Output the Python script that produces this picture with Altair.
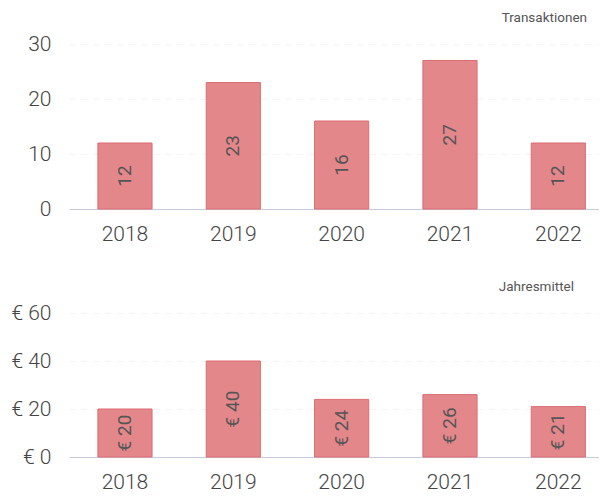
import altair as alt
import pandas as pd

years = ["2018", "2019", "2020", "2021", "2022"]
transactions = [12, 23, 16, 27, 12]
yearly_mean = [20, 40, 24, 26, 21]

df1 = pd.DataFrame({"year": years, "value": transactions, "label": [str(v) for v in transactions]})
df2 = pd.DataFrame({"year": years, "value": yearly_mean, "label": ["€ " + str(v) for v in yearly_mean]})

FONT = "Roboto"
BAR = "#e4878b"
EDGE = "#dc6d72"
TXT = "#555555"

xscale = alt.Scale(paddingInner=0.5, paddingOuter=0.196, align=0.68)


def panel(df, ymax, title, label_expr, h, tdx):
    x = alt.X("year:N", sort=years, scale=xscale,
              axis=alt.Axis(title=None, labelAngle=0, ticks=False, labelPadding=14,
                            labelFontSize=21, labelFont=FONT, labelFontWeight=300,
                            labelColor="#444444", domainColor="#c9c9dd", domainWidth=1,
                            grid=False))
    y = alt.Y("value:Q", scale=alt.Scale(domain=[0, ymax], nice=False),
              axis=alt.Axis(title=None, values=[0, ymax / 3, 2 * ymax / 3, ymax],
                            labelExpr=label_expr, ticks=False, domain=False,
                            labelPadding=18, labelFontSize=21, labelFont=FONT,
                            labelFontWeight=300, labelColor="#444444",
                            gridColor="#f3f3f3", gridDash=[6, 6], gridWidth=1))
    bars = alt.Chart(df).mark_bar(color=BAR, stroke=EDGE, strokeWidth=1, opacity=1).encode(x=x, y=y)
    text = alt.Chart(df).mark_text(angle=270, font=FONT, fontSize=19, color=TXT,
                                   align="center", baseline="middle").encode(
        x=alt.X("year:N", sort=years),
        y=alt.Y("mid:Q"),
        text="label:N",
    ).transform_calculate(mid="datum.value / 2")
    return alt.layer(bars, text).properties(
        width=530, height=h,
        title=alt.TitleParams(title, anchor="end", fontSize=13.5, font=FONT, fontWeight=400,
                              color="#555555", offset=9, dx=tdx),
    )


top = panel(df1, 30, "Transaktionen", "datum.value", 165, -12)
bottom = panel(df2, 60, "Jahresmittel", "'€ ' + datum.value", 144, -25)

chart = alt.vconcat(top, bottom, spacing=35).properties(
    padding={"left": 2, "top": 2, "right": 0, "bottom": 0}
).configure_view(stroke=None)

chart.save("out.html", embed_options={"renderer": "svg", "actions": False})
